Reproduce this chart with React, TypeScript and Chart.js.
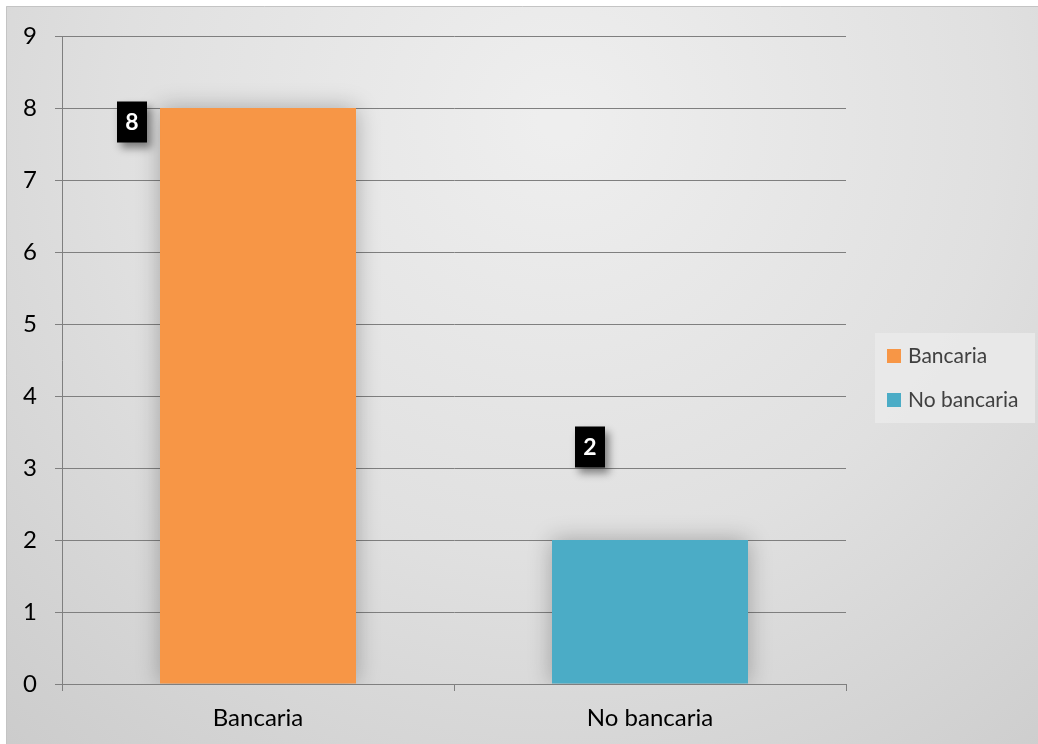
import { useEffect, useRef } from "react";
import { Chart, registerables } from "chart.js";

Chart.register(...registerables);

const categories = ["Bancaria", "No bancaria"];
const values = [8, 2];
const barColors = ["#F79646", "#4BACC6"];
const legendLabels = ["Bancaria", "No bancaria"];
const yMin = 0;
const yMax = 9;
const yStep = 1;

const FONT = "Lato, 'Open Sans', sans-serif";

const backgroundPlugin = {
  id: "bgPlugin",
  beforeDraw(chart: any) {
    const { ctx, width, height } = chart;
    ctx.save();
    ctx.fillStyle = "#ffffff";
    ctx.fillRect(0, 0, width, height);
    const g = ctx.createRadialGradient(560, 120, 20, 560, 120, 950);
    g.addColorStop(0, "#eeeeee");
    g.addColorStop(0.45, "#e0e0e0");
    g.addColorStop(1, "#c6c6c6");
    ctx.fillStyle = g;
    ctx.fillRect(6, 6, width - 6, height - 6);
    ctx.strokeStyle = "#c4c4c4";
    ctx.lineWidth = 1;
    ctx.beginPath();
    ctx.moveTo(6.5, height);
    ctx.lineTo(6.5, 6.5);
    ctx.lineTo(width, 6.5);
    ctx.stroke();
    ctx.restore();
  },
};

const labelOffsets = [
  [-126, 14],
  [-60, -93],
];

const barDecorPlugin = {
  id: "barDecor",
  beforeDatasetsDraw(chart: any) {
    const ctx = chart.ctx;
    ctx.save();
    ctx.shadowColor = "rgba(0,0,0,0.28)";
    ctx.shadowBlur = 22;
    ctx.shadowOffsetX = 0;
    ctx.shadowOffsetY = 0;
  },
  afterDatasetsDraw(chart: any) {
    const ctx = chart.ctx;
    ctx.restore();
    const meta = chart.getDatasetMeta(0);
    meta.data.forEach((el: any, i: number) => {
      const off = labelOffsets[i] || [0, -20];
      const cx = el.x + off[0];
      const cy = el.y + off[1];
      const w = 30;
      const h = 41;
      ctx.save();
      ctx.shadowColor = "rgba(0,0,0,0.45)";
      ctx.shadowBlur = 8;
      ctx.shadowOffsetX = 4;
      ctx.shadowOffsetY = 5;
      ctx.fillStyle = "#000000";
      ctx.fillRect(cx - w / 2, cy - h / 2, w, h);
      ctx.restore();
      ctx.save();
      ctx.fillStyle = "#ffffff";
      ctx.font = `bold 23px ${FONT}`;
      ctx.textAlign = "center";
      ctx.textBaseline = "middle";
      ctx.fillText(String(values[i]), cx, cy + 1);
      ctx.restore();
    });
  },
};

const legendPlugin = {
  id: "customLegend",
  afterDraw(chart: any) {
    const ctx = chart.ctx;
    ctx.save();
    ctx.fillStyle = "rgba(234,234,234,0.85)";
    ctx.fillRect(875, 333, 160, 90);
    legendLabels.forEach((lab, i) => {
      const y = 356 + i * 44;
      ctx.fillStyle = barColors[i];
      ctx.fillRect(887, y - 7, 14, 14);
      ctx.fillStyle = "#404040";
      ctx.font = `21px ${FONT}`;
      ctx.textAlign = "left";
      ctx.textBaseline = "middle";
      ctx.fillText(lab, 908, y);
    });
    ctx.restore();
  },
};

export default function App() {
  const ref = useRef<HTMLCanvasElement>(null);
  useEffect(() => {
    if (!ref.current) return;
    const chart = new Chart(ref.current, {
      type: "bar",
      data: {
        labels: categories,
        datasets: [
          {
            data: values,
            backgroundColor: barColors,
            borderWidth: 0,
            barPercentage: 0.5,
            categoryPercentage: 1,
          },
        ],
      },
      options: {
        responsive: false,
        animation: false,
        layout: { padding: { top: 36, right: 192, bottom: 0, left: 0 } },
        plugins: {
          legend: { display: false },
          tooltip: { enabled: false },
        },
        scales: {
          x: {
            afterFit: (s: any) => {
              s.height = 60;
            },
            grid: {
              offset: true,
              drawOnChartArea: false,
              drawTicks: true,
              tickLength: 7,
              color: "#7f7f7f",
            },
            border: { display: true, color: "#7f7f7f" },
            ticks: {
              color: "#000000",
              font: { family: FONT, size: 24 },
              padding: 13,
            },
          },
          y: {
            min: yMin,
            max: yMax,
            afterFit: (s: any) => {
              s.width = 62;
            },
            grid: {
              color: "#7f7f7f",
              tickLength: 7,
              drawTicks: true,
            },
            border: { display: true, color: "#7f7f7f" },
            ticks: {
              stepSize: yStep,
              color: "#000000",
              font: { family: FONT, size: 24 },
              padding: 18,
            },
          },
        },
      },
      plugins: [backgroundPlugin, barDecorPlugin, legendPlugin],
    });
    return () => chart.destroy();
  }, []);
  return (
    <div style={{ position: "fixed", left: 0, top: 0, width: 1038, height: 744 }}>
      <canvas ref={ref} width={1038} height={744} style={{ display: "block" }} />
    </div>
  );
}
